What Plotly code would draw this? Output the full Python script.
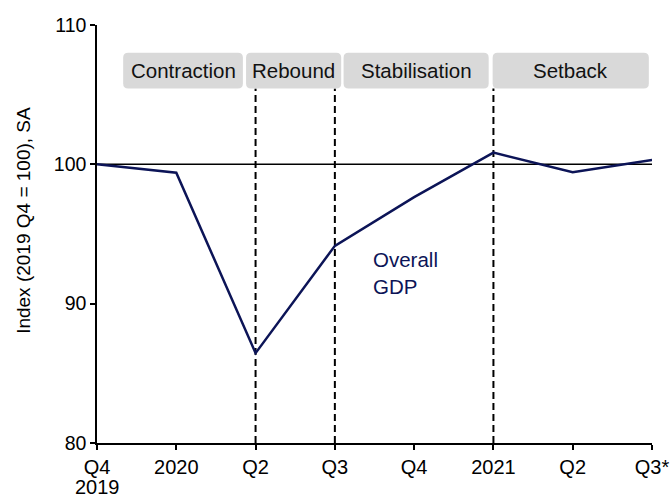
import plotly.graph_objects as go

# ---- data ----
tick_labels = ["Q4", "2020", "Q2", "Q3", "Q4", "2021", "Q2", "Q3*"]
first_tick_year = "2019"
gdp_index = [100.0, 99.4, 86.45, 94.15, 97.65, 100.84, 99.43, 100.32]
phase_names = ["Contraction", "Rebound", "Stabilisation", "Setback"]
phase_start = [0.33, 1.88, 3.11, 4.99]
phase_end = [1.84, 3.08, 4.94, 6.96]
phase_breaks = [2, 3, 5]
y_title = "Index (2019 Q4 = 100), SA"

x = list(range(len(gdp_index)))

FONT = "Liberation Sans, Arial, sans-serif"
NAVY = "#0c1457"

W, H = 670, 502
ML, MR, MT, MB = 97, 18, 25, 58.7
XR = [0, 7]
YR = [80, 110]
plot_w = W - ML - MR
plot_h = H - MT - MB
px_x = plot_w / (XR[1] - XR[0])
px_y = plot_h / (YR[1] - YR[0])

box_y0, box_y1 = 105.45, 108.0

fig = go.Figure()

fig.add_trace(go.Scatter(
    x=x, y=gdp_index, mode="lines",
    line=dict(color=NAVY, width=2.5),
    hoverinfo="skip", showlegend=False,
))

shapes = []
shapes.append(dict(type="line", xref="x", yref="y", x0=XR[0], x1=XR[1], y0=100, y1=100,
                   line=dict(color="black", width=1.5), layer="below"))
for b in phase_breaks:
    shapes.append(dict(type="line", xref="x", yref="y", x0=b, x1=b, y0=YR[0], y1=box_y0,
                       line=dict(color="black", width=2, dash="7px,4px"), layer="below"))


def rounded_rect(x0, x1, y0, y1, r_px=5):
    rx = r_px / px_x
    ry = r_px / px_y
    return (f"M {x0+rx},{y0} L {x1-rx},{y0} Q {x1},{y0} {x1},{y0+ry} "
            f"L {x1},{y1-ry} Q {x1},{y1} {x1-rx},{y1} L {x0+rx},{y1} "
            f"Q {x0},{y1} {x0},{y1-ry} L {x0},{y0+ry} Q {x0},{y0} {x0+rx},{y0} Z")


annotations = []
for name, s, e in zip(phase_names, phase_start, phase_end):
    shapes.append(dict(type="path", xref="x", yref="y", path=rounded_rect(s, e, box_y0, box_y1),
                       fillcolor="#d9d9d9", line=dict(width=0), layer="above"))
    annotations.append(dict(x=(s + e) / 2, y=(box_y0 + box_y1) / 2, xref="x", yref="y",
                            text=name, showarrow=False,
                            font=dict(family=FONT, size=20.5, color="#111111")))

annotations.append(dict(x=3.45, y=92.2, xref="x", yref="y", text="Overall<br>GDP",
                        showarrow=False, xanchor="left", yanchor="middle", align="left",
                        font=dict(family=FONT, size=20.5, color=NAVY)))

# second line of the first tick label (tighter line spacing than <br>)
annotations.append(dict(x=0, y=1 - (487 - MT) / plot_h, xref="x", yref="paper",
                        text=first_tick_year, showarrow=False,
                        xanchor="center", yanchor="middle",
                        font=dict(family=FONT, size=20, color="black")))

# y-axis title
annotations.append(dict(x=(23.5 - ML) / plot_w, y=1 - (220.5 - MT) / plot_h,
                        xref="paper", yref="paper", text=y_title, textangle=-90,
                        showarrow=False, xanchor="center", yanchor="middle",
                        font=dict(family=FONT, size=19, color="black")))

fig.update_layout(
    width=W, height=H,
    margin=dict(l=ML, r=MR, t=MT, b=MB, autoexpand=False),
    paper_bgcolor="white", plot_bgcolor="white",
    font=dict(family=FONT, size=20, color="black"),
    shapes=shapes, annotations=annotations,
    xaxis=dict(range=XR, tickvals=x, ticktext=tick_labels, showgrid=False, zeroline=False,
               showline=True, linecolor="black", linewidth=1.5,
               ticks="outside", ticklen=5, tickcolor="black", tickwidth=1.5,
               tickfont=dict(family=FONT, size=20, color="black")),
    yaxis=dict(range=YR, tickvals=[80, 90, 100, 110], showgrid=False, zeroline=False,
               showline=True, linecolor="black", linewidth=1.5,
               ticks="outside", ticklen=5, tickcolor="black", tickwidth=1.5,
               tickfont=dict(family=FONT, size=19.5, color="black")),
)

fig.write_html(
    "out.html",
    config={"displayModeBar": False},
    post_script="document.body.style.margin='0';document.body.style.overflow='hidden';",
)
